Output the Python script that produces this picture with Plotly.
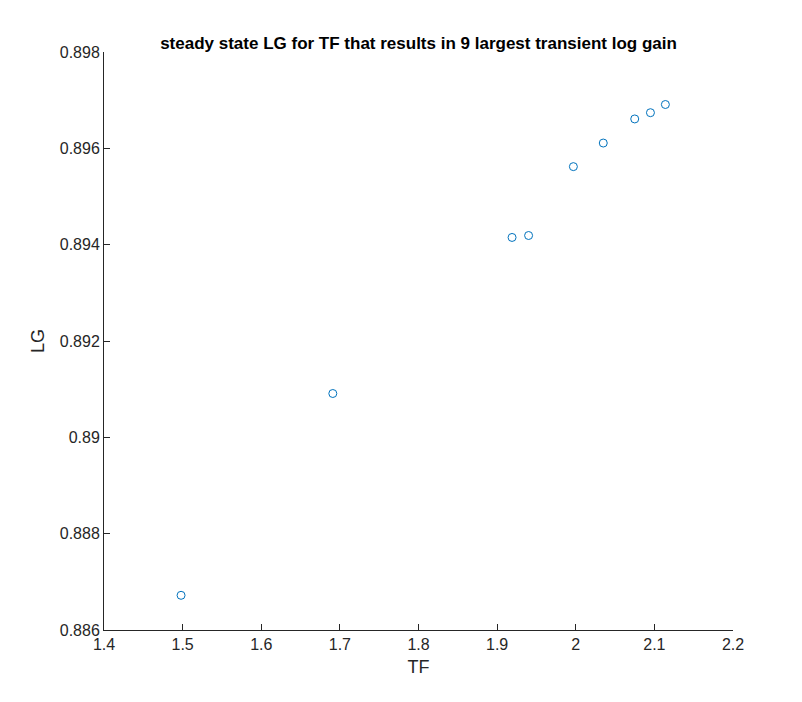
import plotly.graph_objects as go

tf = [1.498, 1.691, 1.919, 1.940, 1.997, 2.035, 2.075, 2.095, 2.114]
lg = [0.88672, 0.89091, 0.89415, 0.89419, 0.89562, 0.89611, 0.89661, 0.89674, 0.89691]

fig = go.Figure()
fig.add_trace(go.Scatter(
    x=tf, y=lg, mode='markers',
    marker=dict(symbol='circle-open', size=8, color='#0072BD', line=dict(width=1)),
    showlegend=False,
))

axis_style = dict(
    showgrid=False, zeroline=False, showline=True, linecolor='#262626', linewidth=1,
    ticks='inside', ticklen=6, tickcolor='#262626',
    tickfont=dict(family='Liberation Sans', size=16, color='#262626'),
    mirror=False,
)

fig.update_layout(
    width=802, height=702,
    margin=dict(l=96, r=77, t=44, b=80),
    plot_bgcolor='white', paper_bgcolor='white',
    title=dict(text='<b>steady state LG for TF that results in 9 largest transient log gain</b>',
               x=0.5, xanchor='center', xref='paper', y=0.942, yanchor='bottom',
               font=dict(family='Liberation Sans', size=17, color='black')),
)
fig.update_xaxes(range=[1.4, 2.2], dtick=0.1, tickformat='.1~f',
                 title=dict(text='TF', font=dict(family='Liberation Sans', size=18, color='#262626'), standoff=8),
                 **axis_style)
fig.update_yaxes(range=[0.886, 0.898], dtick=0.002, tickformat='.3~f',
                 title=dict(text='LG', font=dict(family='Liberation Sans', size=18, color='#262626'), standoff=10),
                 **axis_style)

fig.write_html("out.html")
